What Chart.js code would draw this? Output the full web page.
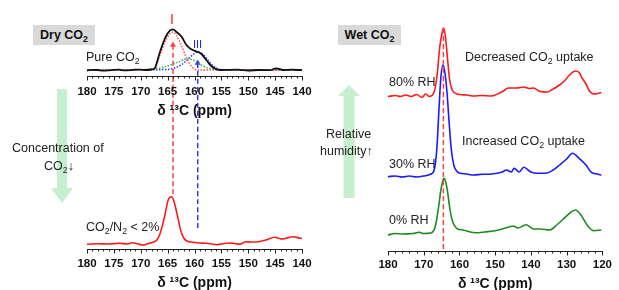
<!DOCTYPE html>
<html>
<head>
<meta charset="utf-8">
<script src="https://cdn.jsdelivr.net/npm/chart.js@4.4.1/dist/chart.umd.min.js"></script>
<style>
  html, body { margin: 0; padding: 0; background: #fff; }
  #wrap { position: relative; width: 619px; height: 290px; overflow: hidden; font-family: "Liberation Sans", Arial, sans-serif; }
  canvas { position: absolute; left: 0; top: 0; }
  .t { position: absolute; font-size: 12.5px; line-height: 14px; white-space: nowrap; color: #222; }
  .t sub { font-size: 0.7em; vertical-align: -0.3em; line-height: 0; }
  .box { position: absolute; background: #d9d9d9; font-weight: bold; font-size: 12.5px; line-height: 20px; text-align: center; color: #111; }
  .box sub { font-size: 0.7em; vertical-align: -0.3em; line-height: 0; }
  svg { position: absolute; left: 0; top: 0; }
</style>
</head>
<body>
<div id="wrap">
  <svg width="619" height="290">
    <polygon points="57,89 67,89 67,188 73,188 62,203 51,188 57,188" fill="#c6f0cd"/>
    <polygon points="343.5,198 354.5,198 354.5,96 360,96 349,85 338,96 343.5,96" fill="#c6f0cd"/>
  </svg>
  <canvas id="cBottom" width="619" height="290"></canvas>
  <canvas id="cTop" width="619" height="118"></canvas>
  <canvas id="cWet" width="619" height="290"></canvas>

  <div class="box" style="left:33px;top:25px;width:62px;height:20px;">Dry CO<sub>2</sub></div>
  <div class="box" style="left:338px;top:25px;width:63px;height:20px;">Wet CO<sub>2</sub></div>

  <div class="t" style="left:86px;top:50px;">Pure CO<sub>2</sub></div>
  <div class="t" style="left:86px;top:220px;">CO<sub>2</sub>/N<sub>2</sub> &lt; 2%</div>
  <div class="t" style="left:12px;top:141px;">Concentration of</div>
  <div class="t" style="left:44px;top:159px;">CO<sub>2</sub>↓</div>
  <div class="t" style="left:326px;top:127px;">Relative</div>
  <div class="t" style="left:320px;top:144px;">humidity↑</div>
  <div class="t" style="left:389px;top:75px;">80% RH</div>
  <div class="t" style="left:389px;top:157px;">30% RH</div>
  <div class="t" style="left:389px;top:213px;">0% RH</div>
  <div class="t" style="left:465px;top:50px;">Decreased CO<sub>2</sub> uptake</div>
  <div class="t" style="left:462px;top:134px;">Increased CO<sub>2</sub> uptake</div>
  <div class="t" style="left:170px;top:11px;font-size:14px;line-height:16px;color:#ff2020;">I</div>
  <div class="t" style="left:193px;top:38px;font-size:11px;line-height:13px;color:#2020ff;">III</div>
</div>
<script>
// ---- Dry CO2, pure CO2 (top left) ----
const pureX = [180, 179, 178, 177, 176, 175, 174, 173, 172, 171, 170, 169, 168, 167.4, 166.5, 165.5, 164.6, 164, 163.4, 162.4, 161.5, 160.6, 159.5, 158.7, 157.8, 156.9, 155.9, 155, 153.5, 152, 150, 148, 146, 144.8, 143.5, 142, 140];
const pureY = [5.5, 6.2, 6, 5.4, 5.7, 6.2, 6.3, 5.6, 5.8, 6.4, 6.3, 6, 6.5, 7.7, 22.7, 37.7, 45.3, 46.7, 44.3, 39.3, 31, 26.7, 24.3, 22, 16, 10, 6.7, 6, 6.2, 6.3, 5.5, 6, 5.8, 7.7, 6, 6.3, 5.8];
const fit1X = [180, 170, 168, 167.4, 166.5, 165.5, 164.6, 164, 163.4, 162.4, 161.5, 160.6, 160, 159, 157, 150, 140];
const fit1Y = [6, 6, 6.5, 8, 20, 34, 42, 44, 41, 30, 18, 10, 7, 6, 6, 6, 6];
const fit2X = [180, 170, 168, 166, 164.5, 163, 162, 161.3, 160.5, 159.5, 158.5, 157.5, 156.5, 155, 150, 140];
const fit2Y = [6, 6.3, 7, 8.5, 11, 14, 16.5, 17, 16.5, 14, 10.5, 8, 7, 6.3, 6, 6];
const fit3X = [180, 165, 164, 163, 162, 161, 160, 159.4, 158.5, 157.5, 156.5, 155.5, 154.5, 140];
const fit3Y = [6, 6.5, 7.5, 9.5, 13, 18, 22.5, 24, 22, 16, 10, 7, 6, 6];

// ---- Dry CO2, CO2/N2 < 2% (bottom left) ----
const lowX = [180, 178, 176, 174, 172.5, 171.5, 170.5, 169.6, 168.6, 167.7, 167, 166.5, 166, 165.5, 164.9, 164.3, 163.9, 163.2, 162.8, 162.4, 162, 161.5, 160.3, 159, 157.8, 156.8, 155.9, 154.7, 153.5, 152.5, 151.6, 150.4, 149.5, 148.5, 146.7, 145.1, 143.6, 141.7, 140.2, 140];
const lowY = [4.7, 5.3, 5, 5.7, 5, 6.3, 5, 4, 5.5, 6.7, 9, 14, 23, 34, 49, 52.3, 49, 34, 24, 15.7, 11, 8.3, 6.7, 6, 5.7, 5, 4.3, 5.3, 6, 5.5, 4.7, 7.3, 7, 7, 9, 11.7, 10, 12.3, 10.7, 10.5];
// peak markers I (164 ppm) and III (159.4 ppm), drawn through both left panels
const markI = { ppm: 164, from: 204, to: 53 };
const markIII = { ppm: 159.4, from: 186, to: 19 };

// ---- Wet CO2 (right) ----
const rh0X = [180, 178, 176, 173, 171.3, 170, 168, 167, 166.4, 165.8, 165.2, 164.6, 164.3, 164, 163.4, 162.8, 162.2, 161.5, 160.5, 159, 157, 155.5, 153, 150, 148, 146.4, 145, 143.6, 141.4, 139.2, 137.4, 134.7, 132.8, 131.2, 129.2, 127.6, 126, 124.3, 122.4, 120.3];
const rh0Y = [-1, 0.5, 0, 0.5, 1.7, 0.5, 1, 5, 14, 28, 44, 54, 55.7, 54, 44, 28, 16, 9, 5, 4, 2, 1.3, 2, 3.3, 5, 6.7, 8, 6, 9.3, 5, 5, 4, 9, 14, 20.7, 24, 19, 9, 3.3, 4];
const rh30X = [180, 178, 176, 174, 172, 170, 168, 167, 166.3, 165.7, 165.2, 164.6, 164.1, 163.5, 162.9, 162.3, 161.6, 160.8, 160, 158, 156, 153.7, 151, 148.2, 146.8, 145.5, 144.7, 143.3, 142, 140, 138.2, 135.5, 133.8, 132, 130, 128.4, 126.5, 124.6, 123, 121.5, 120.3];
const rh30Y = [0.3, 1, 0, 1, 0, 1, 3, 8, 30, 70, 100, 112, 105, 85, 55, 28, 12, 6, 4, 3, 2, 2.7, 3, 4.7, 7, 5, 8.7, 5, 9.7, 5, 3.7, 4, 7, 12, 18, 23.7, 18.7, 12, 4.3, 3, 2];
const rh80X = [180, 178, 176.5, 175, 173.5, 172, 170.5, 169.5, 168.5, 167.2, 166.3, 165.5, 164.9, 164.5, 164, 163.4, 162.8, 162.2, 161.5, 160, 158, 156, 153.7, 151, 149, 147.5, 146.4, 144, 142, 140.5, 139.3, 137.4, 135.5, 134, 132, 130.5, 129.2, 127.6, 126.5, 125.7, 124.5, 123.8, 122.8, 121.9, 120.3];
const rh80Y = [0, 1, 0, 1.5, 0, 2, -1, 2.5, 0, 3.5, 20, 50, 63, 68.5, 62, 40, 18, 8, 4, 2, 1.5, 0.5, 1, 0.5, 3, 6, 8.5, 8.5, 9.5, 8, 8.5, 5, 4.5, 7, 11.5, 16, 21.5, 25.5, 24, 18.5, 12, 6.5, 3, 2.5, 4];
const rhOffset = { rh0: 17, rh30: 74, rh80: 154.5 };
const wetLine = { ppm: 164.5, top: 223 };

const FONT = '"Liberation Sans", Arial, sans-serif';

function pts(xs, ys, off) {
  return xs.map((x, i) => ({ x, y: ys[i] + (off || 0) }));
}

const tickMarks = {
  id: 'tickMarks',
  afterDraw(chart, args, opts) {
    const s = chart.scales.x, ctx = chart.ctx;
    ctx.save();
    ctx.strokeStyle = '#222';
    ctx.lineWidth = 1;
    const n = Math.round((s.max - s.min) / opts.minor);
    for (let i = 0; i <= n; i++) {
      const v = s.min + i * opts.minor;
      const px = Math.round(s.getPixelForValue(v)) + 0.5;
      const len = (Math.round(v) % opts.major === 0) ? opts.majorLen : opts.minorLen;
      ctx.beginPath();
      ctx.moveTo(px, s.top);
      ctx.lineTo(px, s.top + len);
      ctx.stroke();
    }
    ctx.restore();
  }
};

function line(data, color, width, dash) {
  return {
    data, borderColor: color, borderWidth: width, borderDash: dash || [],
    pointRadius: 0, cubicInterpolationMode: 'monotone', fill: false
  };
}

// chart.js counts tick padding twice in the axis height, so the title padding takes it back
function xAxis(min, max, step, tickPad, titlePadTop) {
  return {
    type: 'linear', reverse: true, min, max,
    grid: { display: false, drawTicks: false },
    border: { display: true, color: '#222', width: 1 },
    ticks: { stepSize: step, autoSkip: false, maxRotation: 0, padding: tickPad, color: '#111',
             font: { family: FONT, size: 11.5, weight: 'bold' } },
    title: { display: true, text: 'δ ¹³C (ppm)', color: '#111', padding: { top: titlePadTop - tickPad + 3, bottom: -3 },
             font: { family: FONT, size: 14, weight: 'bold' } }
  };
}

const common = {
  responsive: false, animation: false, events: [],
  plugins: { legend: { display: false }, tooltip: { enabled: false } }
};

// top left
new Chart(document.getElementById('cTop'), {
  type: 'line',
  data: { datasets: [
    line(pts(pureX, pureY), '#111', 1.8),
    line(pts(fit1X, fit1Y), '#ff5050', 1.5, [1.5, 1.5]),
    line(pts(fit2X, fit2Y), '#30b040', 1.5, [1.5, 1.5]),
    line(pts(fit3X, fit3Y), '#3030ff', 1.5, [1.5, 1.5])
  ] },
  options: Object.assign({}, common, {
    layout: { padding: { left: 87, right: 317, top: 10, bottom: 1.3 } },
    scales: { x: xAxis(140, 180, 5, 8.5, 1.6), y: { display: false, min: 0, max: 66 } },
    plugins: Object.assign({}, common.plugins, { tickMarks: { minor: 1, major: 5, majorLen: 4.5, minorLen: 2.5 } })
  }),
  plugins: [tickMarks]
});

// bottom left (also carries the I / III guide lines)
function guide(m, color) {
  const d = line([{ x: m.ppm, y: m.from }, { x: m.ppm, y: m.to }], color, 1.5, [5, 3]);
  d.pointRadius = [3.5, 0];
  d.pointStyle = 'triangle';
  d.pointBackgroundColor = color;
  d.pointBorderWidth = 0;
  return d;
}
new Chart(document.getElementById('cBottom'), {
  type: 'line',
  data: { datasets: [
    guide(markI, '#ff4040'),
    guide(markIII, '#3535ff'),
    line(pts(lowX, lowY), '#ff1a1a', 1.6)
  ] },
  options: Object.assign({}, common, {
    layout: { padding: { left: 87, right: 317, top: 20, bottom: 1.6 } },
    scales: { x: xAxis(140, 180, 5, 8, 0.8), y: { display: false, min: 0, max: 229 } },
    plugins: Object.assign({}, common.plugins, { tickMarks: { minor: 1, major: 5, majorLen: 4.5, minorLen: 2.5 } })
  }),
  plugins: [tickMarks]
});

// right: wet CO2
new Chart(document.getElementById('cWet'), {
  type: 'line',
  data: { datasets: [
    line([{ x: wetLine.ppm, y: wetLine.top }, { x: wetLine.ppm, y: 0 }], '#ff4040', 1.5, [5, 3]),
    line(pts(rh80X, rh80Y, rhOffset.rh80), '#ff1a1a', 1.6),
    line(pts(rh30X, rh30Y, rhOffset.rh30), '#1a1aff', 1.6),
    line(pts(rh0X, rh0Y, rhOffset.rh0), '#1f8a1f', 1.6)
  ] },
  options: Object.assign({}, common, {
    layout: { padding: { left: 388, right: 10, top: 20, bottom: 0 } },
    scales: { x: xAxis(120, 180, 10, 7, 1.4), y: { display: false, min: 0, max: 231 } },
    plugins: Object.assign({}, common.plugins, { tickMarks: { minor: 2, major: 10, majorLen: 4.5, minorLen: 2.5 } })
  }),
  plugins: [tickMarks]
});
</script>
</body>
</html>
